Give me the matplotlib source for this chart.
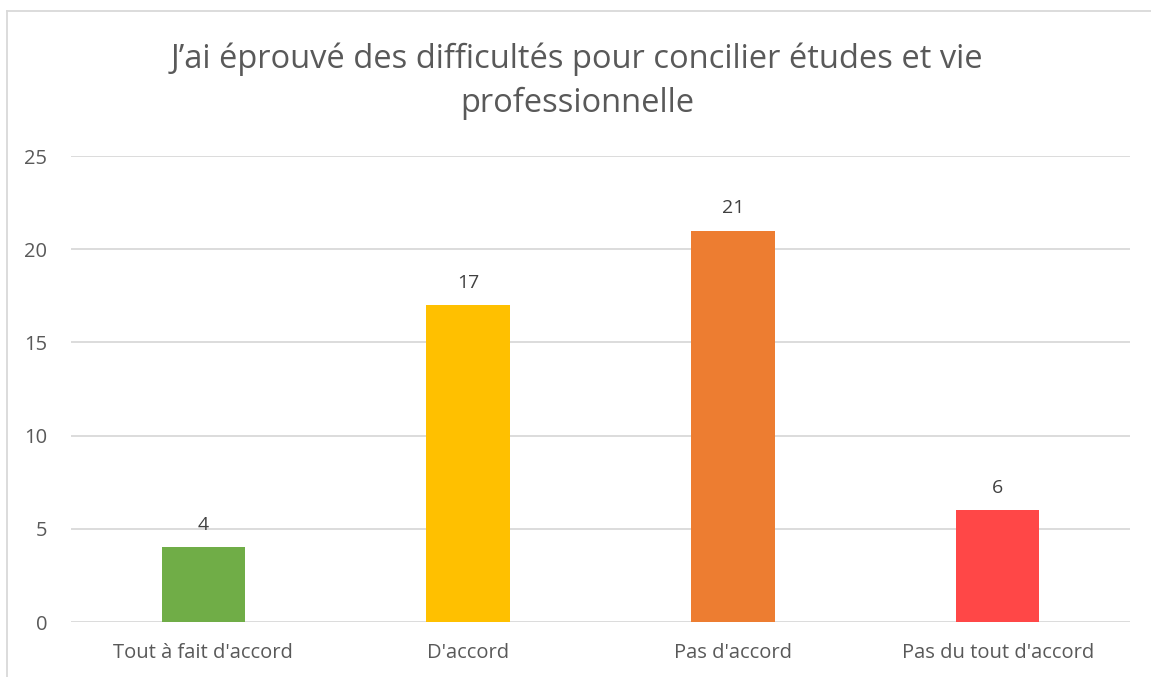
import matplotlib.pyplot as plt
from matplotlib.lines import Line2D

categories = ["Tout à fait d'accord", "D'accord", "Pas d'accord", "Pas du tout d'accord"]
counts = [4, 17, 21, 6]
colors = ["#70AD47", "#FFC000", "#ED7D31", "#FF4747"]
yticks = [0, 5, 10, 15, 20, 25]
title = "J\u2019ai éprouvé des difficultés pour concilier études et vie\nprofessionnelle"

plt.rcParams['font.family'] = ['Open Sans', 'DejaVu Sans']

W, H = 1151, 677
fig = plt.figure(figsize=(W / 100, H / 100), dpi=100)
# axes: x 71..1130, y 156..622 px
ax = fig.add_axes([71 / W, 1 - 622 / H, (1130 - 71) / W, (622 - 156) / H])

x = range(len(categories))
bars = ax.bar(x, counts, width=0.315, color=colors, zorder=2)
for b, v in zip(bars, counts):
    ax.annotate(str(v), (b.get_x() + b.get_width() / 2, v), xytext=(0, 9.5),
                textcoords="offset points", ha="center", va="bottom",
                fontsize=14, color="#404040")

ax.set_xlim(-0.5, len(categories) - 0.5)
ax.set_ylim(0, 25)
ax.set_yticks(yticks)
ax.set_xticks(list(x))
ax.set_xticklabels(categories)
ax.yaxis.grid(True, color="#D9D9D9", linewidth=1.3, zorder=0)
ax.set_axisbelow(True)
for s in ax.spines.values():
    s.set_visible(False)
ax.tick_params(axis="both", length=0, labelsize=14.5, colors="#595959")
ax.tick_params(axis="y", pad=17)
ax.tick_params(axis="x", pad=15)

fig.text(577 / W, 1 - 81 / H, title, ha="center", va="center", fontsize=23.5,
         color="#595959", linespacing=1.43)

# chart border (top and left visible)
fig.add_artist(Line2D([7 / W, 7 / W], [0, 1 - 11 / H], transform=fig.transFigure,
                      color="#D9D9D9", linewidth=1.3))
fig.add_artist(Line2D([7 / W, 1], [1 - 11 / H, 1 - 11 / H], transform=fig.transFigure,
                      color="#D9D9D9", linewidth=1.3))

fig.savefig("out.png", dpi=100)
